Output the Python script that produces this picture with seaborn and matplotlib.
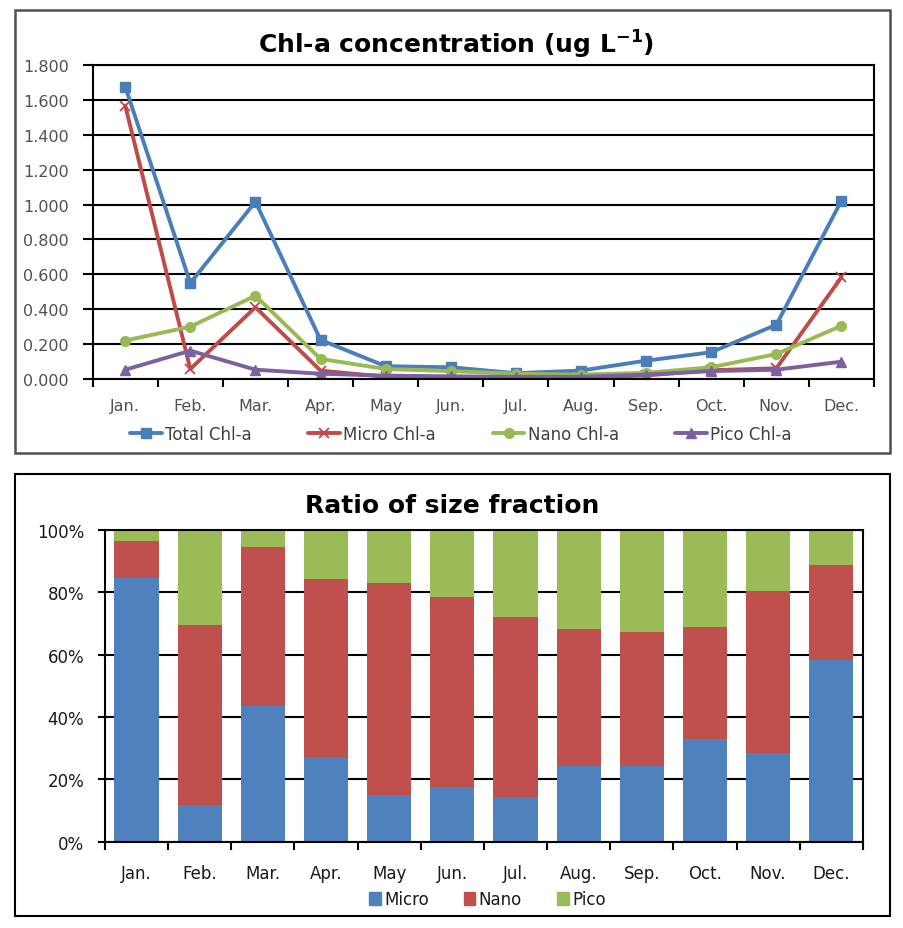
import numpy as np
import pandas as pd
import matplotlib
matplotlib.use('Agg')
import matplotlib.pyplot as plt
import seaborn as sns
from matplotlib.patches import Rectangle, Patch

# Data
months = ['Jan.', 'Feb.', 'Mar.', 'Apr.', 'May', 'Jun.', 'Jul.', 'Aug.', 'Sep.', 'Oct.', 'Nov.', 'Dec.']

total_chla = [1.676, 0.550, 1.016, 0.224, 0.073, 0.067, 0.033, 0.048, 0.105, 0.153, 0.311, 1.022]
micro_chla = [1.567, 0.057, 0.411, 0.048, 0.012, 0.010, 0.008, 0.008, 0.020, 0.050, 0.061, 0.583]
nano_chla = [0.220, 0.300, 0.477, 0.115, 0.057, 0.045, 0.030, 0.025, 0.035, 0.067, 0.143, 0.305]
pico_chla = [0.053, 0.162, 0.053, 0.030, 0.019, 0.015, 0.012, 0.012, 0.025, 0.045, 0.053, 0.099]

micro_pct = [84.5, 11.8, 43.6, 27.2, 15.1, 17.4, 14.2, 24.4, 24.4, 32.9, 28.4, 58.2]
nano_pct = [12.0, 57.8, 50.8, 57.0, 68.0, 61.1, 58.0, 44.0, 43.0, 36.1, 51.9, 30.7]
pico_pct = [3.5, 30.4, 5.6, 15.8, 16.9, 21.5, 27.8, 31.6, 32.6, 31.0, 19.7, 11.1]

# Style
sns.set_theme(style='white')
plt.rcParams['font.family'] = ['DejaVu Sans']
plt.rcParams['mathtext.default'] = 'regular'

fig = plt.figure(figsize=(9.04, 9.29), dpi=100)

# Frames around each chart
fig.add_artist(Rectangle((0.0166, 0.5113), 0.968, 0.4769, transform=fig.transFigure,
                         fill=False, ec='#505050', lw=1.8))
fig.add_artist(Rectangle((0.0166, 0.0129), 0.968, 0.4758, transform=fig.transFigure,
                         fill=False, ec='black', lw=1.5))

# ---- Top: Chl-a concentration lines ----
ax1 = fig.add_axes([0.1025, 0.591, 0.8643, 0.338])
ax1.set_axisbelow(True)
lines = [
    ('Total Chl-a', total_chla, '#4A7EBB', 's', 7, 1),
    ('Micro Chl-a', micro_chla, '#BE4B48', 'x', 7, 1.3),
    ('Nano Chl-a', nano_chla, '#98B954', 'o', 7, 1),
    ('Pico Chl-a', pico_chla, '#7D60A0', '^', 7, 1),
]
for name, vals, color, marker, ms, mew in lines:
    sns.lineplot(x=months, y=vals, ax=ax1, color=color, marker=marker, markersize=ms,
                 markeredgecolor=color, markeredgewidth=mew, linewidth=2.8,
                 label=name, sort=False)

ax1.set_xlim(-0.5, 11.5)
ax1.set_ylim(0, 1.8)
ax1.set_xticks(range(12))
ax1.set_xticklabels(months)
ax1.set_xticks(np.arange(-0.5, 12), minor=True)
ax1.tick_params(axis='x', which='major', length=0, pad=14, labelsize=11.5, labelcolor='#505050')
ax1.tick_params(axis='x', which='minor', length=6, width=1.5, color='black', direction='out', bottom=True)
yt = np.arange(0, 1.81, 0.2)
ax1.set_yticks(yt)
ax1.set_yticklabels(['{:.3f}'.format(v) for v in yt])
ax1.tick_params(axis='y', length=7, width=1.5, color='black', direction='out', left=True,
                pad=10, labelsize=11.5, labelcolor='#505050')
ax1.yaxis.grid(True, color='black', lw=1.5)
ax1.xaxis.grid(False)
ax1.set_xlabel('')
ax1.set_ylabel('')
for s in ax1.spines.values():
    s.set_color('black')
    s.set_linewidth(1.5)

ax1.legend(loc='center', bbox_to_anchor=(0.51, 0.532), bbox_transform=fig.transFigure,
           ncol=4, frameon=False, handlelength=1.9, columnspacing=3.4, handletextpad=0.2,
           fontsize=12, labelcolor='#404040')
fig.text(0.505, 1 - 45 / 929, r'Chl-a concentration (ug L$^{\mathbf{-1}}$)', ha='center', va='center',
         fontsize=18, fontweight='bold', color='black')

# ---- Bottom: ratio of size fraction (100% stacked bars) ----
df = pd.DataFrame({'Month': months, 'Micro': micro_pct, 'Nano': nano_pct, 'Pico': pico_pct})
df['Micro+Nano'] = df['Micro'] + df['Nano']
df['All'] = df['Micro+Nano'] + df['Pico']

ax2 = fig.add_axes([0.116, 0.0929, 0.8385, 0.3355])
ax2.set_axisbelow(True)
colors = {'Micro': '#4F81BD', 'Nano': '#C0504D', 'Pico': '#9BBB59'}
for col, key in [('All', 'Pico'), ('Micro+Nano', 'Nano'), ('Micro', 'Micro')]:
    sns.barplot(data=df, x='Month', y=col, color=colors[key], saturation=1, width=0.7,
                linewidth=0, edgecolor='none', ax=ax2)

ax2.set_xlim(-0.5, 11.5)
ax2.set_ylim(0, 100)
ax2.set_xticks(np.arange(-0.5, 12), minor=True)
ax2.tick_params(axis='x', which='major', length=0, pad=16, labelsize=12, labelcolor='#1a1a1a')
ax2.tick_params(axis='x', which='minor', length=6, width=1.5, color='black', direction='out', bottom=True)
ax2.set_yticks(range(0, 101, 20))
ax2.set_yticklabels(['{}%'.format(v) for v in range(0, 101, 20)])
ax2.tick_params(axis='y', length=5, width=1.5, color='black', direction='out', left=True,
                pad=10, labelsize=12, labelcolor='#1a1a1a')
ax2.yaxis.grid(True, color='black', lw=1.5)
ax2.xaxis.grid(False)
ax2.set_xlabel('')
ax2.set_ylabel('')
for s in ax2.spines.values():
    s.set_color('black')
    s.set_linewidth(1.5)

handles = [Patch(color=colors[k], label=k) for k in ['Micro', 'Nano', 'Pico']]
ax2.legend(handles=handles, loc='center', bbox_to_anchor=(0.539, 0.031), bbox_transform=fig.transFigure,
           ncol=3, frameon=False, handlelength=0.7, handleheight=0.8, handletextpad=0.2,
           columnspacing=2.1, fontsize=12, labelcolor='#1a1a1a')
fig.text(0.5, 0.455, 'Ratio of size fraction', ha='center', va='center',
         fontsize=18, fontweight='bold', color='black')

fig.savefig('out.png', dpi=100)
